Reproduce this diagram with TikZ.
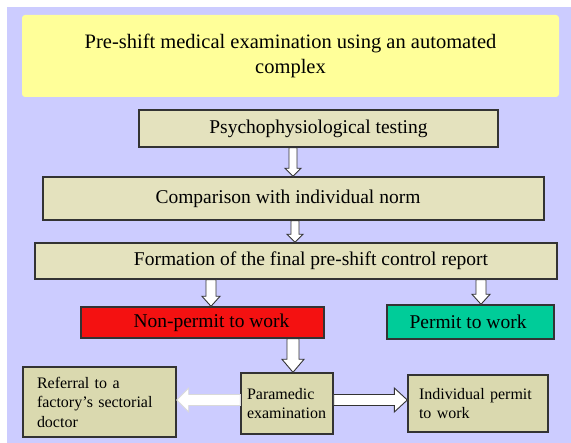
\documentclass[tikz,border=0pt]{standalone}
\usepackage{fontspec}
\setmainfont{Liberation Serif}
\usetikzlibrary{calc}
\definecolor{lav}{HTML}{CCCCFF}
\definecolor{yel}{HTML}{FFFF99}
\definecolor{beige}{HTML}{E4E2BE}
\definecolor{beigelow}{HTML}{DAD9AF}
\definecolor{boxline}{HTML}{333333}
\definecolor{nred}{HTML}{F41111}
\definecolor{pgreen}{HTML}{00CC99}
\newcommand{\vblk}[5]{%
  \path let \p1=#1, \p2=#2 in [draw=boxline, line width=0.9pt, fill=white, line join=miter]
  (\x1-#3pt,\y1) -- (\x1-#3pt,\y2+#5pt) -- (\x1-#4pt,\y2+#5pt) -- (\x1,\y2)
  -- (\x1+#4pt,\y2+#5pt) -- (\x1+#3pt,\y2+#5pt) -- (\x1+#3pt,\y1) -- cycle;}
\newcommand{\hblkR}[6]{%
  \path let \p1=#1, \p2=#2 in [draw=#6, line width=0.9pt, fill=white, line join=miter]
  (\x1,\y1+#3pt) -- (\x2-#5pt,\y1+#3pt) -- (\x2-#5pt,\y1+#4pt) -- (\x2,\y1)
  -- (\x2-#5pt,\y1-#4pt) -- (\x2-#5pt,\y1-#3pt) -- (\x1,\y1-#3pt) -- cycle;}
\newcommand{\hblkL}[6]{%
  \path let \p1=#1, \p2=#2 in [draw=#6, line width=0.9pt, fill=white, line join=miter]
  (\x1,\y1+#3pt) -- (\x2+#5pt,\y1+#3pt) -- (\x2+#5pt,\y1+#4pt) -- (\x2,\y1)
  -- (\x2+#5pt,\y1-#4pt) -- (\x2+#5pt,\y1-#3pt) -- (\x1,\y1-#3pt) -- cycle;}
\begin{document}
\begin{tikzpicture}[x=1pt,y=-1pt,
  box/.style={draw=boxline, line width=1.4pt, fill=beige, inner sep=0pt,
    font=\fontsize{19.5}{23.4}\selectfont},
  lowbox/.style={draw=boxline, line width=1.4pt, fill=beigelow, inner ysep=0pt,
    align=left, font=\fontsize{16}{19.5}\selectfont}]
\path[use as bounding box] (0,0) rectangle (571,443);
\fill[white] (0,0) rectangle (571,443);
\fill[lav] (7,7) rectangle (571,443);
\node[fill=yel, rounded corners=3pt, minimum width=537pt, minimum height=82pt,
  inner sep=0pt, align=center, font=\fontsize{20.5}{25}\selectfont]
  (title) at (290.5,56) {Pre-shift medical examination using an automated\\complex};
\node[box, minimum width=359pt, minimum height=37pt] (psych) at (318.5,128.5)
  {Psychophysiological testing};
\node[box, minimum width=501pt, minimum height=43pt] (comp) at (293.5,198.5)
  {Comparison with individual norm\hspace*{11pt}};
\node[box, minimum width=522pt, minimum height=36pt] (form) at (296,261)
  {\hspace*{30pt}Formation of the final pre-shift control report};
\node[box, fill=nred, minimum width=243pt, minimum height=31pt] (np) at (202.5,322.5)
  {\hspace*{18pt}Non-permit to work};
\node[box, fill=pgreen, minimum width=167pt, minimum height=34pt] (perm) at (470.5,322)
  {Permit to work\hspace*{5pt}};
\node[lowbox, inner xsep=14pt, text width=125pt, minimum height=70pt] (ref) at (99.5,402)
  {Referral to a\\factory’s sectorial\\doctor};
\node[lowbox, inner xsep=6pt, text width=80pt, minimum height=61pt] (para) at (287,403.5)
  {Paramedic\\examination};
\node[lowbox, inner xsep=11pt, text width=118pt, minimum height=57pt] (ind) at (478,403.5)
  {Individual permit\\to work};
\vblk{(psych.south -| 293,0)}{(comp.north -| 293,0)}{4}{8}{8}
\vblk{(comp.south -| 295,0)}{(form.north -| 295,0)}{4}{8}{8}
\vblk{(form.south -| 211,0)}{(np.north -| 211,0)}{5}{9}{10}
\vblk{(form.south -| 481,0)}{(perm.north -| 481,0)}{5}{9}{10}
\vblk{(np.south -| 293,0)}{(para.north -| 293,0)}{6}{11}{13}
\hblkR{(para.east |- 0,400)}{(ind.west |- 0,400)}{5.5}{12}{13}{boxline}
\hblkL{(para.west |- 0,400)}{(ref.east |- 0,400)}{5.5}{12}{12}{gray!30}
\end{tikzpicture}
\end{document}
